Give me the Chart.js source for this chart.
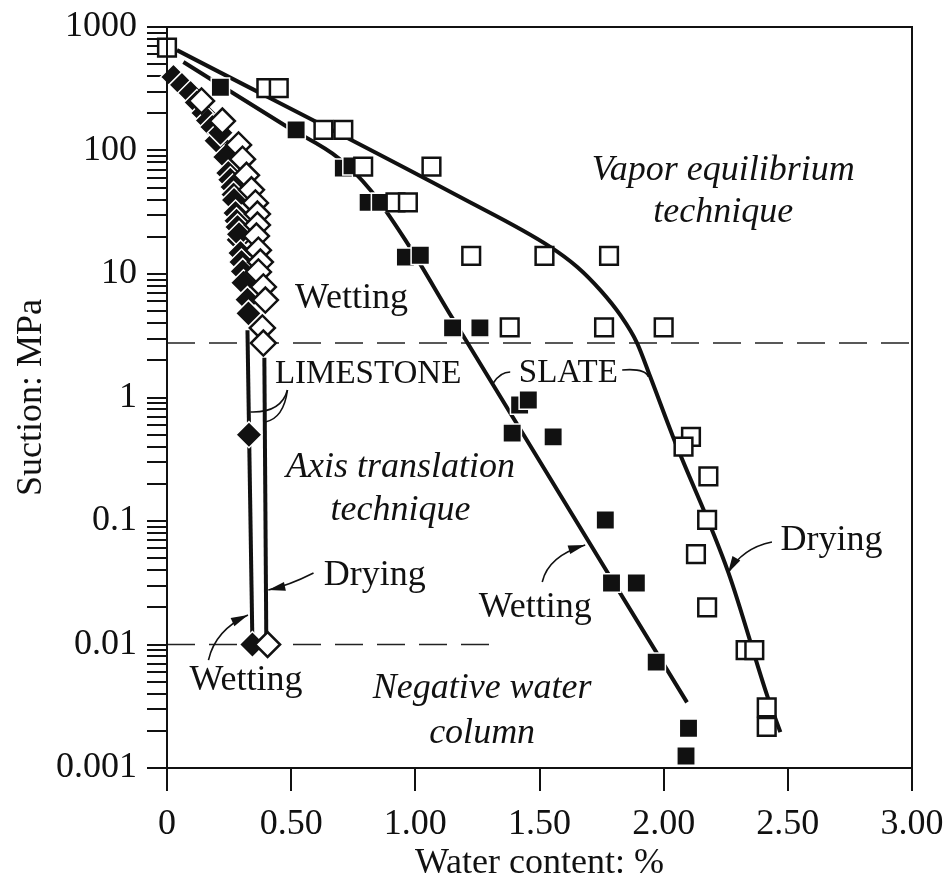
<!DOCTYPE html>
<html>
<head>
<meta charset="utf-8">
<script src="https://cdn.jsdelivr.net/npm/chart.js@4.4.1/dist/chart.umd.min.js"></script>
<style>
  html, body { margin: 0; padding: 0; background: #fff; }
  canvas { display: block; }
</style>
</head>
<body>
<canvas id="suctionChart" width="950" height="886"></canvas>
<script>
// Slate, drying (open squares)
const slateDryX = [0, 0.40, 0.45, 0.63, 0.71, 0.79, 1.065, 0.92, 0.97, 1.225, 1.52, 1.78,
  1.38, 1.76, 2.00, 2.11, 2.08, 2.18, 2.175, 2.13, 2.175, 2.33, 2.365, 2.415, 2.415];
const slateDryY = [680, 320, 320, 147, 147, 74, 74, 38, 38, 14, 14, 14,
  3.7, 3.7, 3.7, 0.48, 0.40, 0.23, 0.102, 0.054, 0.020, 0.009, 0.009, 0.0031, 0.00215];

// Slate, wetting (filled squares)
const slateWetX = [0.215, 0.52, 0.71, 0.745, 0.81, 0.86, 0.96, 1.02, 1.15, 1.26,
  1.42, 1.455, 1.39, 1.555, 1.765, 1.79, 1.89, 1.97, 2.10, 2.09];
const slateWetY = [325, 147, 72, 75, 38, 38, 13.7, 14.2, 3.66, 3.66,
  0.87, 0.955, 0.515, 0.48, 0.102, 0.0315, 0.0315, 0.0072, 0.0021, 0.00125];

// Limestone, wetting (filled diamonds)
const limeWetX = [0.026, 0.06, 0.095, 0.12, 0.147, 0.165, 0.183, 0.2, 0.215, 0.235, 0.247,
  0.255, 0.264, 0.268, 0.27, 0.276, 0.28, 0.284, 0.288, 0.29, 0.296, 0.30, 0.305,
  0.308, 0.324, 0.328, 0.33, 0.344];
const limeWetY = [394, 340, 292, 245, 201, 175, 155, 120, 139, 88.5, 65.7,
  58, 50.6, 44, 39.7, 31.2, 27, 24, 18.9, 21, 14.8, 12.5, 10.5,
  8.5, 6.2, 4.8, 0.50, 0.01];

// Limestone, drying (open diamonds)
const limeDryX = [0.139, 0.223, 0.288, 0.304, 0.320, 0.340, 0.356, 0.364, 0.364, 0.360,
  0.368, 0.376, 0.368, 0.388, 0.396, 0.384, 0.388, 0.405];
const limeDryY = [252, 173, 111, 85, 63, 48, 37.6, 30.6, 24.9, 20.3,
  15.6, 12.5, 10.4, 7.85, 6.15, 3.66, 2.76, 0.01];

// Fitted curves
const slateDryFitX = [0.04, 1.18, 1.543, 1.652, 1.745, 1.825, 1.893, 1.946, 2.038, 2.26, 2.42, 2.47];
const slateDryFitY = [650, 42, 16.6, 11.4, 7.4, 4.66, 2.76, 1.47, 0.479, 0.0386, 0.00369, 0.00195];
const slateWetFitX = [0.066, 0.485, 0.69, 0.819, 0.96, 1.149, 2.094];
const slateWetFitY = [521, 155, 87, 47.9, 18.8, 4.4, 0.0034];
const limeWetFitX = [0.324, 0.344];
const limeWetFitY = [3.5, 0.01];
const limeDryFitX = [0.392, 0.40];
const limeDryFitY = [2.1, 0.01];

// Axis ticks
const xTicks = [0, 0.5, 1.0, 1.5, 2.0, 2.5, 3.0];
const yDecades = [-3, -2, -1, 0, 1, 2];

const ink = '#111';
const serif = '"Liberation Serif", "DejaVu Serif", serif';
Chart.defaults.font.family = serif;
Chart.defaults.color = ink;

const toPoints = (xs, ys) => xs.map((x, i) => ({ x: x, y: ys[i] }));

const yTickValues = [];
yDecades.forEach(e => {
  for (let m = 1; m <= 9; m++) yTickValues.push(Number((m * Math.pow(10, e)).toPrecision(3)));
});
yTickValues.push(1000);

const isDecade = v => Math.abs(Math.log10(v) - Math.round(Math.log10(v))) < 1e-9;

// Dashed guides separating the measuring techniques
const guideLines = [
  { y: 2.76, from: 0, to: 3 },
  { y: 0.01, from: 0, to: 1.31 }
];

const notes = [
  { text: 'Vapor equilibrium', x: 2.24, y: 57.7, italic: true },
  { text: 'technique', x: 2.24, y: 26.4, italic: true },
  { text: 'Wetting', x: 0.743, y: 5.3 },
  { text: 'LIMESTONE', x: 0.81, y: 1.31, size: 33 },
  { text: 'SLATE', x: 1.616, y: 1.34, size: 33 },
  { text: 'Axis translation', x: 0.94, y: 0.227, italic: true },
  { text: 'technique', x: 0.94, y: 0.102, italic: true },
  { text: 'Drying', x: 0.837, y: 0.0303 },
  { text: 'Wetting', x: 1.483, y: 0.0167 },
  { text: 'Drying', x: 2.676, y: 0.0582 },
  { text: 'Wetting', x: 0.318, y: 0.00428 },
  { text: 'Negative water', x: 1.269, y: 0.00369, italic: true },
  { text: 'column', x: 1.269, y: 0.00159, italic: true }
];

// Leader curves: from label, through control point, to the curve they name
const leaders = [
  { from: [0.59, 0.0379], ctrl: [0.49, 0.030], to: [0.408, 0.0276], arrow: true },
  { from: [0.167, 0.00748], ctrl: [0.195, 0.0131], to: [0.326, 0.0173], arrow: true },
  { from: [1.511, 0.0321], ctrl: [1.535, 0.0521], to: [1.684, 0.064], arrow: true },
  { from: [2.436, 0.0676], ctrl: [2.316, 0.0604], to: [2.259, 0.0379], arrow: true },
  { from: [0.485, 1.15], ctrl: [0.46, 0.75], to: [0.336, 0.764] },
  { from: [0.485, 1.15], ctrl: [0.47, 0.68], to: [0.396, 0.634] },
  { from: [1.382, 1.61], ctrl: [1.342, 1.61], to: [1.314, 1.31] },
  { from: [1.833, 1.67], ctrl: [1.926, 1.73], to: [1.938, 1.47] }
];

const decor = {
  id: 'decor',
  beforeDatasetsDraw(chart) {
    const { ctx, scales: { x, y } } = chart;
    ctx.save();
    ctx.strokeStyle = '#222';
    ctx.lineWidth = 1.5;
    ctx.setLineDash([28, 14]);
    guideLines.forEach(g => {
      const py = y.getPixelForValue(g.y);
      ctx.beginPath();
      ctx.moveTo(x.getPixelForValue(g.from), py);
      ctx.lineTo(x.getPixelForValue(g.to), py);
      ctx.stroke();
    });
    ctx.restore();
  },
  afterDatasetsDraw(chart) {
    const { ctx, chartArea: a, scales: { x, y } } = chart;
    const P = p => [x.getPixelForValue(p[0]), y.getPixelForValue(p[1])];
    ctx.save();

    // frame
    ctx.strokeStyle = ink;
    ctx.lineWidth = 2;
    ctx.strokeRect(a.left, a.top, a.right - a.left, a.bottom - a.top);

    // leaders
    ctx.lineWidth = 1.6;
    leaders.forEach(l => {
      const f = P(l.from), c = P(l.ctrl), t = P(l.to);
      ctx.beginPath();
      ctx.moveTo(f[0], f[1]);
      ctx.quadraticCurveTo(c[0], c[1], t[0], t[1]);
      ctx.stroke();
      if (l.arrow) {
        const ang = Math.atan2(t[1] - c[1], t[0] - c[0]);
        const len = 17, half = 4.5;
        ctx.beginPath();
        ctx.moveTo(t[0], t[1]);
        ctx.lineTo(t[0] - len * Math.cos(ang) + half * Math.sin(ang), t[1] - len * Math.sin(ang) - half * Math.cos(ang));
        ctx.lineTo(t[0] - len * Math.cos(ang) - half * Math.sin(ang), t[1] - len * Math.sin(ang) + half * Math.cos(ang));
        ctx.closePath();
        ctx.fillStyle = ink;
        ctx.fill();
      }
    });

    // labels
    ctx.fillStyle = ink;
    ctx.textAlign = 'center';
    ctx.textBaseline = 'alphabetic';
    notes.forEach(n => {
      ctx.font = (n.italic ? 'italic ' : '') + (n.size || 36) + 'px ' + serif;
      const p = P([n.x, n.y]);
      ctx.fillText(n.text, p[0], p[1]);
    });
    ctx.restore();
  },
  afterDraw(chart) {
    const { ctx, chartArea: a } = chart;
    ctx.save();
    ctx.fillStyle = ink;
    ctx.font = '36px ' + serif;
    ctx.textAlign = 'center';
    ctx.textBaseline = 'alphabetic';
    ctx.fillText('Water content: %', (a.left + a.right) / 2, 873);
    ctx.translate(41, (a.top + a.bottom) / 2);
    ctx.rotate(-Math.PI / 2);
    ctx.fillText('Suction: MPa', 0, 0);
    ctx.restore();
  }
};

const curve = (xs, ys, smooth) => ({
  data: toPoints(xs, ys),
  showLine: true,
  borderColor: ink,
  borderWidth: 4,
  pointRadius: 0,
  fill: false,
  cubicInterpolationMode: smooth ? 'monotone' : 'default',
  order: 5
});

const markers = (xs, ys, style, filled, radius, order) => ({
  data: toPoints(xs, ys),
  showLine: false,
  pointStyle: style,
  pointRadius: radius,
  pointHoverRadius: radius,
  backgroundColor: filled ? ink : '#fff',
  borderColor: filled ? '#fff' : ink,
  borderWidth: filled ? 1.5 : 2.5,
  pointBorderWidth: filled ? 1.5 : 2.5,
  clip: false,
  order: order
});

const ctx = document.getElementById('suctionChart').getContext('2d');
new Chart(ctx, {
  type: 'scatter',
  data: {
    datasets: [
      curve(slateDryFitX, slateDryFitY, true),
      curve(slateWetFitX, slateWetFitY, true),
      curve(limeWetFitX, limeWetFitY, false),
      curve(limeDryFitX, limeDryFitY, false),
      markers(slateWetX, slateWetY, 'rect', true, 13, 3),
      markers(slateDryX, slateDryY, 'rect', false, 12.5, 2),
      markers(limeWetX, limeWetY, 'rectRot', true, 13, 4),
      markers(limeDryX, limeDryY, 'rectRot', false, 12.5, 1)
    ]
  },
  options: {
    responsive: false,
    animation: false,
    layout: { padding: { top: 27, right: 38, left: 0, bottom: 0 } },
    plugins: {
      legend: { display: false },
      tooltip: { enabled: false }
    },
    scales: {
      x: {
        type: 'linear',
        min: 0,
        max: 3,
        afterBuildTicks: s => { s.ticks = xTicks.map(v => ({ value: v })); },
        afterFit: s => { s.height = 118; s.paddingLeft = 0; s.paddingRight = 0; },
        ticks: {
          font: { size: 36 },
          color: ink,
          padding: 12,
          maxRotation: 0,
          autoSkip: false,
          callback: v => (v === 0 ? '0' : Number(v).toFixed(2))
        },
        grid: { drawOnChartArea: false, drawTicks: true, tickLength: 23, color: ink, lineWidth: 2 },
        border: { display: true, color: ink, width: 2 }
      },
      y: {
        type: 'logarithmic',
        min: 0.001,
        max: 1000,
        afterBuildTicks: s => { s.ticks = yTickValues.map(v => ({ value: v })); },
        afterFit: s => { s.width = 167; s.paddingTop = 0; s.paddingBottom = 0; },
        ticks: {
          font: { size: 36 },
          color: ink,
          padding: 10,
          autoSkip: false,
          callback: v => (isDecade(v) ? String(v) : '')
        },
        grid: { drawOnChartArea: false, drawTicks: true, tickLength: 20, color: ink, lineWidth: 2 },
        border: { display: true, color: ink, width: 2 }
      }
    }
  },
  plugins: [decor]
});
</script>
</body>
</html>
